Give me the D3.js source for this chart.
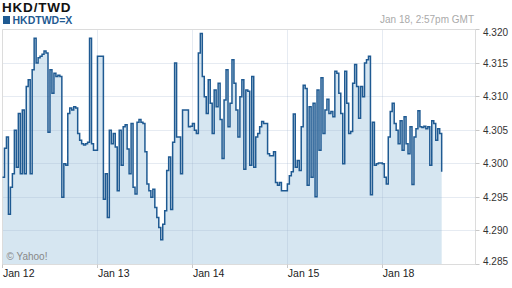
<!DOCTYPE html>
<html lang="en">
<head>
<meta charset="UTF-8">
<title>HKD/TWD</title>
<script src="https://d3js.org/d3.v7.min.js"></script>
<style>
  body { margin: 0; background: #fff; }
  svg { display: block; font-family: "Liberation Sans", Arial, sans-serif; }
</style>
</head>
<body>
<div id="chart"></div>
<script>

	// trading days on the axis
	var dayLabels = ["Jan 12", "Jan 13", "Jan 14", "Jan 15", "Jan 18"];

	// half-hour quotes, one array per day
	var jan12 = [4.2980, 4.3023, 4.3040, 4.2925, 4.2965, 4.2985, 4.3050, 4.2995, 4.3075, 4.2985,
	             4.3080, 4.2985, 4.3115, 4.3125, 4.2985, 4.3140, 4.3187, 4.3150, 4.3158, 4.3160,
	             4.3163, 4.3168, 4.3165, 4.3047, 4.3140, 4.3105, 4.3135, 4.3130, 4.3132, 4.3130,
	             4.2950, 4.3000, 4.2998, 4.3075, 4.3083, 4.3080, 4.3085, 4.3083, 4.3045, 4.3035,
	             4.3030, 4.3028, 4.3030, 4.3032, 4.3187, 4.3030, 4.3020, 4.3020];
	var jan13 = [4.3160, 4.3160, 4.3160, 4.2947, 4.2985, 4.2920, 4.3050, 4.3030, 4.3045, 4.3025,
	             4.2960, 4.3050, 4.2998, 4.3055, 4.3058, 4.3022, 4.2985, 4.3060, 4.2965, 4.2955,
	             4.3062, 4.3066, 4.3062, 4.3060, 4.3018, 4.2970, 4.2960, 4.2950, 4.2962, 4.2935,
	             4.2920, 4.2905, 4.2887, 4.2910, 4.2930, 4.2990, 4.3010, 4.2932, 4.3032, 4.3150,
	             4.3040, 4.3040, 4.2985, 4.3080, 4.3080, 4.3080, 4.3055, 4.3056];
	var jan14 = [4.3060, 4.3050, 4.3045, 4.3165, 4.3194, 4.3130, 4.3100, 4.3075, 4.3125, 4.3090,
	             4.3045, 4.3110, 4.3085, 4.3120, 4.3066, 4.3008, 4.3095, 4.3140, 4.3055, 4.3090,
	             4.3155, 4.3120, 4.3080, 4.3040, 4.3100, 4.3125, 4.2992, 4.3110, 4.3108, 4.2998,
	             4.3130, 4.2995, 4.3040, 4.3045, 4.3055, 4.3063, 4.3060, 4.3060, 4.3015, 4.3012,
	             4.3012, 4.3018, 4.2972, 4.2968, 4.2972, 4.2960, 4.2960, 4.2960];
	var jan15 = [4.2970, 4.2982, 4.2988, 4.3074, 4.2995, 4.3005, 4.2990, 4.3055, 4.3117, 4.3112,
	             4.2968, 4.3085, 4.2980, 4.3090, 4.2951, 4.3110, 4.3020, 4.3128, 4.3045, 4.3080,
	             4.3096, 4.3075, 4.3078, 4.3070, 4.3138, 4.3135, 4.3105, 4.3075, 4.3000, 4.3138,
	             4.3090, 4.3045, 4.3048, 4.3120, 4.3148, 4.3115, 4.3068, 4.3115, 4.3100, 4.3150,
	             4.3155, 4.3160, 4.2954, 4.3062, 4.2998, 4.3000, 4.3001, 4.3001];
	var jan18 = [4.3000, 4.2980, 4.2970, 4.3040, 4.3078, 4.3090, 4.3060, 4.3050, 4.3030, 4.3064,
	             4.3020, 4.3070, 4.3030, 4.3015, 4.3055, 4.2969, 4.3040, 4.3052, 4.3079, 4.3055,
	             4.3054, 4.3056, 4.3052, 4.3055, 4.2998, 4.3064, 4.3060, 4.3035, 4.3052, 4.3045,
	             4.2988];

	var yTicks = [4.285, 4.290, 4.295, 4.300, 4.305, 4.310, 4.315, 4.320];

	var width = 512, height = 288;
	var lineColor = "#1f5a92";

	var svg = d3.select("#chart")
	  .append("svg")
		.attr("width", width)
		.attr("height", height);

	var x = d3.scaleLinear()
	  .domain([0, 4.976])
	  .range([2.5, 475]);

	var y = d3.scaleLinear()
	  .domain([4.285, 4.320])
	  .range([264.5, 29.5]);

	var data = [];
	[jan12, jan13, jan14, jan15, jan18].forEach(function(day, i) {
	  day.forEach(function(v, k) { data.push({t: i + k / 48, v: v}); });
	});

	function crisp(v) { return Math.round(v - 0.5) + 0.5; }

	// filled area under the quotes
	svg.append("path")
	  .datum(data)
	  .attr("fill", "#d6e6f1")
	  .attr("d", d3.area()
		.curve(d3.curveStepAfter)
		.x(function(d) { return x(d.t); })
		.y0(y(4.285))
		.y1(function(d) { return y(d.v); }));

	// grid
	svg.append("g")
	  .selectAll("line")
	  .data(yTicks)
	  .enter().append("line")
		.attr("x1", 2.5).attr("x2", 475)
		.attr("y1", function(d) { return crisp(y(d)); })
		.attr("y2", function(d) { return crisp(y(d)); })
		.attr("stroke", "rgba(150,170,200,0.24)");

	svg.append("g")
	  .selectAll("line")
	  .data(d3.range(1, dayLabels.length))
	  .enter().append("line")
		.attr("x1", function(d) { return crisp(x(d)); })
		.attr("x2", function(d) { return crisp(x(d)); })
		.attr("y1", 29.5).attr("y2", 264.5)
		.attr("stroke", "rgba(150,170,200,0.24)");

	// frame
	svg.append("path")
	  .attr("d", "M2.5,264.5V29.5H475.5V264.5H2.5")
	  .attr("fill", "none")
	  .attr("stroke", "#dcdcdc");

	// quote line
	svg.append("path")
	  .datum(data)
	  .attr("fill", "none")
	  .attr("stroke", lineColor)
	  .attr("stroke-width", 1.5)
	  .attr("d", d3.line()
		.curve(d3.curveStepAfter)
		.x(function(d) { return x(d.t); })
		.y(function(d) { return y(d.v); }));

	// right axis
	var yAxis = svg.append("g")
	  .attr("transform", "translate(475.5,0)");
	yAxis.selectAll("line")
	  .data(yTicks)
	  .enter().append("line")
		.attr("x1", 0).attr("x2", 4)
		.attr("y1", function(d) { return crisp(y(d)); })
		.attr("y2", function(d) { return crisp(y(d)); })
		.attr("stroke", "#c8c8c8");
	yAxis.selectAll("text")
	  .data(yTicks)
	  .enter().append("text")
		.attr("x", 7.5)
		.attr("y", function(d, i) {
		  var off = i === 0 ? -3 : (i === yTicks.length - 1 ? 3 : 0);
		  return y(d) + off;
		})
		.attr("dy", "0.35em")
		.style("font-size", "10px")
		.attr("fill", "#333")
		.text(function(d) { return d3.format(".3f")(d); });

	// bottom axis
	var xAxis = svg.append("g");
	xAxis.selectAll("line")
	  .data(d3.range(dayLabels.length))
	  .enter().append("line")
		.attr("x1", function(d) { return crisp(x(d)); })
		.attr("x2", function(d) { return crisp(x(d)); })
		.attr("y1", 264.5).attr("y2", 268)
		.attr("stroke", "#c8c8c8");
	xAxis.selectAll("text")
	  .data(dayLabels)
	  .enter().append("text")
		.attr("x", function(d, i) { return x(i) + 0.5; })
		.attr("y", 277)
		.style("font-size", "10.5px")
		.attr("fill", "#222")
		.text(function(d) { return d; });

	// header
	svg.append("text")
	  .attr("x", 2).attr("y", 12)
	  .style("font-size", "13.5px")
	  .style("font-weight", "bold")
	  .style("letter-spacing", "0.8px")
	  .attr("fill", "#111")
	  .text("HKD/TWD");

	svg.append("rect")
	  .attr("x", 3).attr("y", 16)
	  .attr("width", 7).attr("height", 8)
	  .attr("fill", lineColor);

	svg.append("text")
	  .attr("x", 12.5).attr("y", 24)
	  .style("font-size", "10.5px")
	  .style("font-weight", "bold")
	  .attr("fill", lineColor)
	  .text("HKDTWD=X");

	svg.append("text")
	  .attr("x", 474).attr("y", 23)
	  .attr("text-anchor", "end")
	  .style("font-size", "10px")
	  .attr("fill", "#aaa")
	  .text("Jan 18, 2:57pm GMT");

	svg.append("text")
	  .attr("x", 6.5).attr("y", 260)
	  .style("font-size", "10px")
	  .attr("fill", "#888")
	  .text("\u00a9 Yahoo!");

</script>
</body>
</html>
